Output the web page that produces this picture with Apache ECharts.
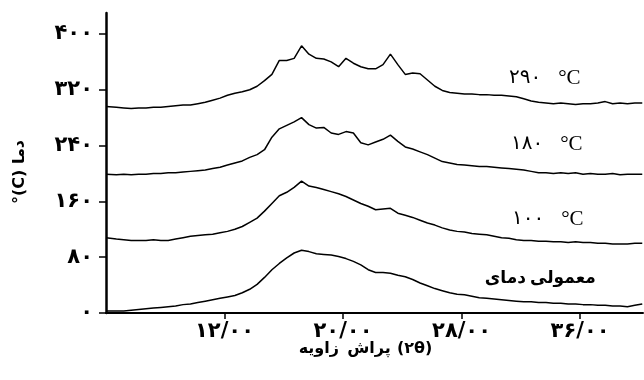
<!DOCTYPE html>
<html>
<head>
<meta charset="utf-8">
<script src="https://cdn.jsdelivr.net/npm/echarts@6/dist/echarts.min.js"></script>
<style>
    html, body { margin: 0; padding: 0; background: #fff; }
    #chart { width: 644px; height: 380px; }
</style>
</head>
<body>
<div id="chart"></div>
<script>
// زاویه پراش (2θ)
var angle = [
    4.0, 4.7, 5.2, 5.7, 6.2, 6.7, 7.2, 7.7, 8.2, 8.7,
    9.2, 9.7, 10.2, 10.7, 11.2, 11.7, 12.2, 12.7, 13.2, 13.7,
    14.2, 14.7, 15.2, 15.7, 16.2, 16.7, 17.2, 17.7, 18.2, 18.7,
    19.2, 19.7, 20.2, 20.7, 21.2, 21.7, 22.2, 22.7, 23.2, 23.7,
    24.2, 24.7, 25.2, 25.7, 26.2, 26.7, 27.2, 27.7, 28.2, 28.7,
    29.2, 29.7, 30.2, 30.7, 31.2, 31.7, 32.2, 32.7, 33.2, 33.7,
    34.2, 34.7, 35.2, 35.7, 36.2, 36.7, 37.2, 37.7, 38.2, 38.7,
    39.2, 39.7, 40.2
];

// 290 °C
var curve290 = [
    296, 295, 294, 293, 294, 294, 295, 295, 296, 297,
    298, 298, 300, 302, 305, 308, 312, 315, 317, 320,
    325, 333, 342, 362, 362, 365, 383, 371, 365, 364,
    360, 353, 365, 358, 353, 350, 350, 356, 371, 356,
    342, 344, 343, 334, 325, 319, 316, 315, 314, 314,
    313, 313, 312, 312, 311, 310, 307, 304, 302, 301,
    300, 301, 300, 299, 300, 300, 301, 303, 300, 301,
    300, 301, 301
];

// 180 °C
var curve180 = [
    199, 198, 199, 198, 199, 199, 200, 200, 201, 201,
    202, 203, 204, 205, 207, 209, 212, 215, 218, 223,
    227, 234, 252, 264, 269, 274, 280, 270, 265, 266,
    258, 256, 260, 258, 244, 241, 245, 249, 255, 246,
    238, 235, 231, 227, 222, 217, 215, 213, 212, 211,
    210, 210, 209, 208, 207, 206, 205, 203, 201, 201,
    200, 201, 200, 201, 199, 200, 199, 199, 200, 198,
    199, 199, 199
];

// 100 °C
var curve100 = [
    108, 106, 105, 104, 104, 104, 105, 104, 104, 106,
    108, 110, 111, 112, 113, 115, 117, 120, 124, 130,
    136, 146, 157, 168, 173, 180, 189, 182, 180, 177,
    174, 171, 167, 162, 157, 153, 148, 149, 150, 143,
    140, 137, 133, 129, 126, 122, 119, 117, 116, 114,
    113, 112, 110, 108, 107, 105, 104, 104, 103, 103,
    102, 102, 101, 102, 101, 101, 100, 100, 99, 99,
    99, 100, 100
];

// دمای معمولی
var curveRoom = [
    3, 3, 3, 4, 5, 6, 7, 8, 9, 10,
    12, 13, 15, 17, 19, 21, 23, 25, 29, 34,
    41, 51, 62, 71, 79, 86, 90, 88, 85, 84,
    83, 81, 78, 74, 69, 62, 58, 58, 57, 54,
    52, 48, 43, 39, 35, 32, 29, 27, 26, 24,
    22, 21, 20, 19, 18, 17, 16, 16, 15, 15,
    14, 14, 13, 13, 12, 12, 11, 11, 10, 10,
    9, 11, 13
];

var xTicks = [12, 20, 28, 36];
var xTickLabels = ['۱۲/۰۰', '۲۰/۰۰', '۲۸/۰۰', '۳۶/۰۰'];
var yTicks = [0, 80, 160, 240, 320, 400];
var yTickLabels = ['۰', '۸۰', '۱۶۰', '۲۴۰', '۳۲۰', '۴۰۰'];

var tempLabels = ['۲۹۰', '۱۸۰', '۱۰۰'];
var roomLabel = ['دمای', 'معمولی'];
var xTitle = ['زاویه', 'پراش', '(۲θ)'];
var yTitle = '°(C) دما';

function pairs(ys) {
    var out = [];
    for (var i = 0; i < angle.length; i++) {
        out.push([angle[i], ys[i]]);
    }
    return out;
}

function lineSeries(name, ys) {
    return {
        name: name,
        type: 'line',
        data: pairs(ys),
        showSymbol: false,
        symbol: 'none',
        lineStyle: {color: '#000', width: 1.5},
        silent: true
    };
}

var persianFont = "'DejaVu Sans', sans-serif";

function plainText(text, x, y, align, font) {
    return {
        type: 'text',
        x: x,
        y: y,
        style: {
            text: text,
            fill: '#000',
            font: font,
            align: align,
            verticalAlign: 'middle'
        }
    };
}

function tempLabel(num, x, y) {
    return {
        type: 'text',
        x: x,
        y: y,
        style: {
            text: '{d|' + num + '}{c|°C}',
            align: 'left',
            verticalAlign: 'middle',
            rich: {
                d: {font: '20px ' + persianFont, fill: '#000', padding: [0, 17, 0, 0]},
                c: {font: '21px "Liberation Serif", serif', fill: '#000'}
            }
        }
    };
}

var option = {
    animation: false,
    backgroundColor: '#fff',
    grid: {left: 106, right: 1, top: 13, bottom: 67},
    xAxis: {
        type: 'value',
        min: 4,
        max: 40.25,
        axisLine: {lineStyle: {color: '#000', width: 2}},
        axisTick: {
            customValues: xTicks,
            length: 6,
            lineStyle: {color: '#000', width: 1.5}
        },
        axisLabel: {
            customValues: xTicks,
            formatter: function (v) {
                return xTickLabels[xTicks.indexOf(v)];
            },
            color: '#000',
            fontFamily: persianFont,
            fontWeight: 'bold',
            fontSize: 21,
            margin: 8
        },
        splitLine: {show: false}
    },
    yAxis: {
        type: 'value',
        min: 0,
        max: 430,
        interval: 80,
        axisLine: {show: true, lineStyle: {color: '#000', width: 2.5}},
        axisTick: {
            show: true,
            customValues: yTicks,
            length: 7,
            lineStyle: {color: '#000', width: 1.5}
        },
        axisLabel: {
            customValues: yTicks,
            formatter: function (v) {
                return yTickLabels[yTicks.indexOf(v)];
            },
            color: '#000',
            fontFamily: persianFont,
            fontWeight: 'bold',
            fontSize: 21,
            margin: 13
        },
        splitLine: {show: false}
    },
    graphic: [
        {
            type: 'text',
            x: 20,
            y: 172,
            rotation: Math.PI / 2,
            style: {
                text: yTitle,
                fill: '#000',
                font: 'bold 16px ' + persianFont,
                align: 'center',
                verticalAlign: 'middle'
            }
        },
        // words placed one by one to keep the printed left-to-right order
        plainText(xTitle[0], 339, 349, 'right', 'bold 16px ' + persianFont),
        plainText(xTitle[1], 369, 349, 'center', 'bold 16px ' + persianFont),
        plainText(xTitle[2], 397, 349, 'left', 'bold 16px ' + persianFont),
        tempLabel(tempLabels[0], 509, 78),
        tempLabel(tempLabels[1], 511, 144),
        tempLabel(tempLabels[2], 512, 219),
        plainText(roomLabel[0], 526, 279, 'right', 'bold 17px ' + persianFont),
        plainText(roomLabel[1], 530, 279, 'left', 'bold 17px ' + persianFont)
    ],
    series: [
        lineSeries('290', curve290),
        lineSeries('180', curve180),
        lineSeries('100', curve100),
        lineSeries('room', curveRoom)
    ]
};

var myChart = echarts.init(document.getElementById('chart'));
myChart.setOption(option);
</script>
</body>
</html>
